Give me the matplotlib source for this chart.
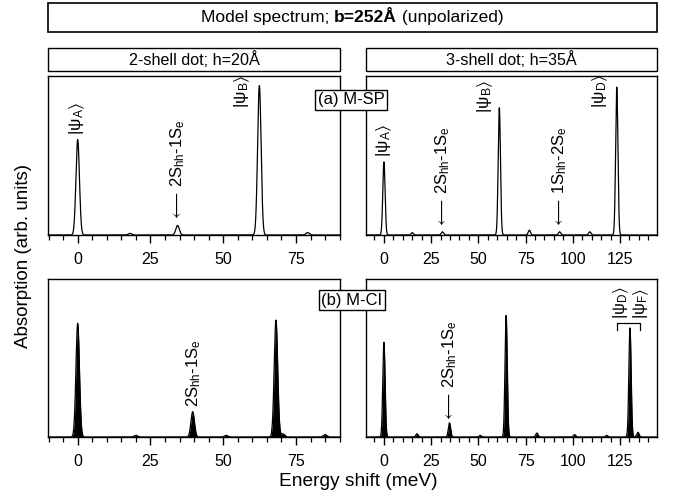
import numpy as np
import matplotlib
matplotlib.use("Agg")
import matplotlib.pyplot as plt
from matplotlib.patches import Rectangle
from matplotlib.ticker import MultipleLocator

plt.rcParams['font.family'] = ['Liberation Sans', 'DejaVu Sans']
plt.rcParams['mathtext.fontset'] = 'custom'
plt.rcParams['mathtext.rm'] = 'Liberation Sans'
plt.rcParams['mathtext.it'] = 'Liberation Sans:italic'
plt.rcParams['mathtext.bf'] = 'Liberation Sans:bold'
plt.rcParams['mathtext.sf'] = 'Liberation Sans'
plt.rcParams['mathtext.fallback'] = 'stixsans'

# ---------------- data (peak positions in meV, heights in arb. units) ----------------
a2_pos = [0, 18, 34.3, 62.4, 79]
a2_hgt = [0.60, 0.01, 0.06, 0.94, 0.015]

a3_pos = [0, 15, 31, 61.1, 77, 93, 109, 123.3]
a3_hgt = [0.46, 0.015, 0.02, 0.80, 0.03, 0.02, 0.02, 0.93]

b2_pos = [0, 20, 39.5, 51, 68.1, 70.5, 85]
b2_hgt = [0.72, 0.01, 0.16, 0.01, 0.74, 0.02, 0.015]

b3_pos = [0, 17.5, 34.7, 51, 64.7, 81, 101, 118, 130.3, 134.5]
b3_hgt = [0.60, 0.02, 0.09, 0.01, 0.77, 0.025, 0.015, 0.01, 0.69, 0.03]

xticks_left = [0, 25, 50, 75]
xticks_right = [0, 25, 50, 75, 100, 125]

title_parts = ['Model spectrum; ', 'b=252Å', ' (unpolarized)']
sub_left = '2-shell dot; h=20Å'
sub_right = '3-shell dot; h=35Å'

W, H = 677, 495
fig = plt.figure(figsize=(W / 100, H / 100), dpi=100)


def fx(x):
    return x / W


def fy(y):
    return 1 - y / H


def make_ax(x0, x1, y0, y1):
    return fig.add_axes([fx(x0), fy(y1), fx(x1) - fx(x0), fy(y0) - fy(y1)])


SIG = 0.6


def spectrum(ax, pos, hgt, xlim, filled):
    x = np.linspace(xlim[0], xlim[1], 4000)
    y = np.zeros_like(x)
    for p, h in zip(pos, hgt):
        y += h * np.exp(-0.5 * ((x - p) / SIG) ** 2)
    if filled:
        ax.fill_between(x, 0, y, color='black', lw=0)
    ax.plot(x, y, color='black', lw=0.9)
    ax.set_xlim(*xlim)
    ax.set_ylim(0, 1.0)
    ax.set_yticks([])
    ax.xaxis.set_minor_locator(MultipleLocator(5))
    for s in ax.spines.values():
        s.set_linewidth(1.0)
    ax.tick_params(axis='x', which='major', direction='out', length=6, width=1.0,
                   labelsize=11.5, pad=6)
    ax.tick_params(axis='x', which='minor', direction='out', length=3.5, width=0.9)


XL_L = (-10.2, 90.1)
XL_R = (-9.5, 144.6)

axa2 = make_ax(48, 340, 76, 235)
axa3 = make_ax(366, 657, 76, 235)
axb2 = make_ax(48, 340, 279, 437)
axb3 = make_ax(366, 657, 279, 437)

spectrum(axa2, a2_pos, a2_hgt, XL_L, False)
spectrum(axa3, a3_pos, a3_hgt, XL_R, False)
spectrum(axb2, b2_pos, b2_hgt, XL_L, True)
spectrum(axb3, b3_pos, b3_hgt, XL_R, True)
for ax in (axa2, axb2):
    ax.set_xticks(xticks_left)
for ax in (axa3, axb3):
    ax.set_xticks(xticks_right)


def psi(sub):
    return r'$|\mathrm{ψ}_{\mathrm{%s}}\rangle$' % sub


FS = 12.5
arrow_2S = r'$\longleftarrow\,\mathrm{2S}_{\mathrm{hh}}\mathrm{\text{-}1S}_{\mathrm{e}}$'
arrow_1S = r'$\longleftarrow\,\mathrm{1S}_{\mathrm{hh}}\mathrm{\text{-}2S}_{\mathrm{e}}$'
plain_2S = r'$\mathrm{2S}_{\mathrm{hh}}\mathrm{\text{-}1S}_{\mathrm{e}}$'


def label(ax, x, yfrac, s, fs=FS):
    ax.text(x, yfrac, s, transform=ax.get_xaxis_transform(), rotation=90,
            ha='center', va='bottom', fontsize=fs, clip_on=False)


label(axa2, 0, 0.63, psi('A'))
label(axa2, 34.3, 0.09, arrow_2S, 12)
label(axa2, 56.4, 0.80, psi('B'))

label(axa3, 0, 0.49, psi('A'))
label(axa3, 31.3, 0.045, arrow_2S, 12)
label(axa3, 53.5, 0.77, psi('B'))
label(axa3, 93.2, 0.045, arrow_1S, 12)
label(axa3, 114.4, 0.80, psi('D'))

label(axb2, 40, 0.19, plain_2S, 12)

label(axb3, 35, 0.095, arrow_2S, 12)
label(axb3, 125.6, 0.745, psi('D'), 12)
label(axb3, 136.5, 0.745, psi('F'), 12)
tr = axb3.get_xaxis_transform()
axb3.plot([123.4, 123.4, 135.6, 135.6], [0.68, 0.72, 0.72, 0.68], color='black',
          lw=0.9, transform=tr, clip_on=False)

# ---------------- boxes and headings ----------------
def fig_box(x0, y0, x1, y1, lw=1.0):
    fig.add_artist(Rectangle((fx(x0), fy(y1)), fx(x1) - fx(x0), fy(y0) - fy(y1),
                             transform=fig.transFigure, fill=False,
                             edgecolor='black', lw=lw))


fig_box(48, 3, 657, 32, lw=1.2)

# title made of regular / bold / regular pieces, centred as a whole
renderer = fig.canvas.get_renderer()
weights = ['normal', 'bold', 'normal']
pieces = [fig.text(0, fy(17.5), t, ha='left', va='center', fontsize=12.5, fontweight=w)
          for t, w in zip(title_parts, weights)]
widths = [p.get_window_extent(renderer).width for p in pieces]
x = 352 - sum(widths) / 2
for p, w in zip(pieces, widths):
    p.set_x(fx(x))
    x += w

fig_box(48, 48, 340, 71)
fig_box(366, 48, 657, 71)
fig.text(fx(194), fy(59.5), sub_left, ha='center', va='center', fontsize=11.6)
fig.text(fx(511), fy(59.5), sub_right, ha='center', va='center', fontsize=11.6)

box_kw = dict(boxstyle='square,pad=0.15', facecolor='white', edgecolor='black', lw=1.0)
fig.text(fx(351), fy(99.5), '(a) M-SP', ha='center', va='center', fontsize=12,
         bbox=box_kw, zorder=5)
fig.text(fx(352), fy(300), '(b) M-CI', ha='center', va='center', fontsize=12,
         bbox=box_kw, zorder=5)

fig.text(fx(24), fy(256), 'Absorption (arb. units)', rotation=90, ha='center',
         va='center', fontsize=13.5)
fig.text(fx(358), fy(481), 'Energy shift (meV)', ha='center', va='center', fontsize=13.8)

fig.savefig('out.png', dpi=100)
